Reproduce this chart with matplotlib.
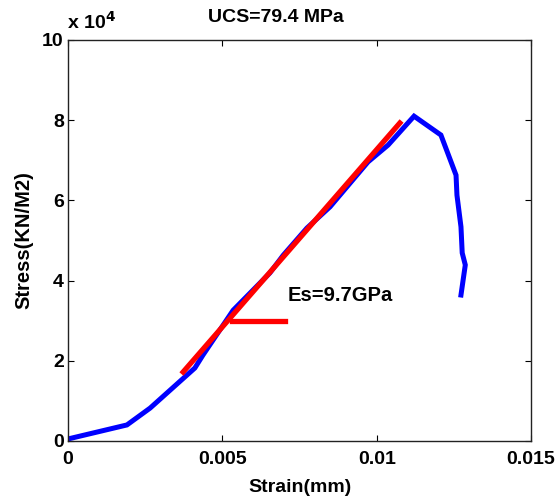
import matplotlib
matplotlib.use("Agg")
import matplotlib.pyplot as plt

# stress-strain curve
strain = [0.0, 0.00191, 0.00266, 0.00411, 0.00437, 0.00535, 0.00654, 0.00697,
          0.00774, 0.00849, 0.00972, 0.01037, 0.01121, 0.01208, 0.01257,
          0.01260, 0.01273, 0.01277, 0.01287, 0.01273]
stress = [500, 4000, 8200, 18200, 21400, 32600, 41900, 46300,
          53100, 58400, 69600, 73800, 81000, 76300, 66300,
          61300, 53400, 46900, 43900, 36400]

# modulus fit line and horizontal marker
fit_x = [0.00373, 0.01075]
fit_y = [17200, 79300]
mark_x = [0.00531, 0.00703]
mark_y = [30000, 30000]

plt.rcParams["font.family"] = ["Liberation Sans", "DejaVu Sans"]
plt.rcParams["font.weight"] = "bold"

fig = plt.figure(figsize=(5.59, 5.01), dpi=100)
ax = fig.add_axes([0.1216, 0.1198, 0.8284, 0.8004])

ax.plot(strain, stress, color="blue", linewidth=3.6, solid_joinstyle="miter", zorder=2)
ax.plot(fit_x, fit_y, color="red", linewidth=3.8, zorder=3)
ax.plot(mark_x, mark_y, color="red", linewidth=3.8, zorder=3)

ax.text(0.00713, 36400, "Es=9.7GPa", fontsize=14.5, fontweight="bold",
        va="center", ha="left")

ax.set_xlim(0, 0.015)
ax.set_ylim(0, 100000)
ax.set_xticks([0, 0.005, 0.01, 0.015])
ax.set_xticklabels(["0", "0.005", "0.01", "0.015"])
ax.set_yticks([0, 20000, 40000, 60000, 80000, 100000])
ax.set_yticklabels(["0", "2", "4", "6", "8", "10"])
ax.tick_params(direction="in", length=4, width=0.8, top=True, right=True,
               labelsize=14, pad=3)
ax.tick_params(axis="x", pad=7)
for lab in ax.get_xticklabels() + ax.get_yticklabels():
    lab.set_fontweight("bold")
for s in ax.spines.values():
    s.set_linewidth(1.0)
    s.set_color("#222222")

ax.set_xlabel("Strain(mm)", fontsize=14, fontweight="bold", labelpad=8)
ax.set_ylabel("Stress(KN/M2)", fontsize=14.5, fontweight="bold", labelpad=6)

fig.text(276 / 559, 1 - 18 / 501, "UCS=79.4 MPa", fontsize=14, fontweight="bold",
         ha="center", va="center")
fig.text(67 / 559, 1 - 22 / 501, r"x 10$^{\mathbf{4}}$", fontsize=14, fontweight="bold",
         ha="left", va="center")

fig.savefig("out.png", dpi=100)
